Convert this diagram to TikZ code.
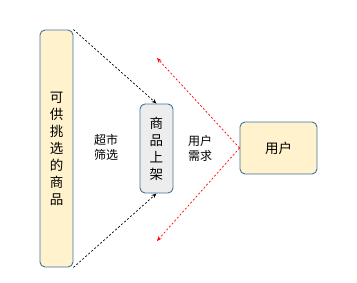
\documentclass[tikz,border=0pt]{standalone}
\usepackage{fontspec}
\newfontfamily\cjk{Noto Sans CJK SC}
\usetikzlibrary{arrows.meta,positioning}

\definecolor{edgeblue}{HTML}{41719C}
\definecolor{cream}{HTML}{FFF2CC}
\definecolor{shelfgrey}{HTML}{EDEDED}

\tikzset{
  box/.style={draw=edgeblue, line width=0.9pt, rounded corners=5pt,
    align=center, inner sep=0pt, font=\cjk\fontsize{13.5}{17}\selectfont},
  goodsbox/.style={box, fill=cream},
  shelfbox/.style={box, fill=shelfgrey},
  note/.style={align=center, font=\cjk\fontsize{12}{15}\selectfont},
  pick/.style={->, >={Stealth[length=5pt,width=4pt]}, dash pattern=on 2pt off 2pt, line width=0.7pt},
  need/.style={pick, red}
}

\begin{document}
\begin{tikzpicture}[x=1pt,y=-1pt]
\useasboundingbox (0,0) rectangle (357,282);

\node[goodsbox, minimum width=33pt, minimum height=237pt] (goods) at (56.5,148.5) {可\\供\\挑\\选\\的\\商\\品};
\node[shelfbox, minimum width=33pt, minimum height=89pt] (shelf) at (156.5,148.5) {商\\品\\上\\架};
\node[goodsbox, minimum width=77pt, minimum height=52pt] (user) at (278.5,148) {用户};

\node[note] (filter) at (106,147) {超市\\筛选};
\node[note] (demand) at (200,148) {用户\\需求};

\coordinate (upend) at (157,58);
\coordinate (downend) at (157,241);

\draw[pick] (goods.north east) -- (shelf.north);
\draw[pick] (goods.south east) -- (shelf.south);
\draw[need] (user.west) -- (upend);
\draw[need] (user.west) -- (downend);
\end{tikzpicture}
\end{document}
